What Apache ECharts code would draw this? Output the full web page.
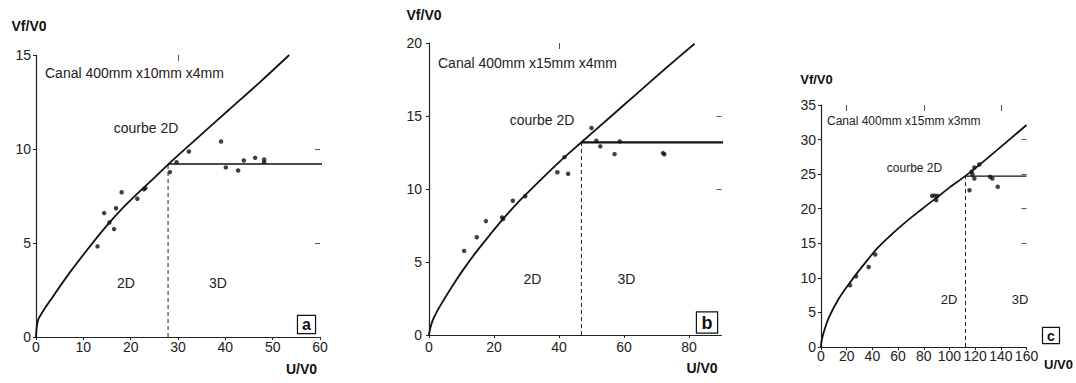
<!DOCTYPE html>
<html>
<head>
<meta charset="utf-8">
<script src="https://cdn.jsdelivr.net/npm/echarts@6/dist/echarts.min.js"></script>
<style>
html,body{margin:0;padding:0;background:#fff;}
#chart{width:1076px;height:383px;}
</style>
</head>
<body>
<div id="chart"></div>
<script>
// ---------- Panel a : Canal 400mm x10mm x4mm ----------
const aXTicks = [0, 10, 20, 30, 40, 50, 60];
const aYTicks = [0, 5, 10, 15];
const aXMax = 60, aYMax = 15;
const aTopTicks = [30];
const aRightTicks = [5, 10];
const aPoints = [[13.0,4.82],[14.4,6.59],[15.5,6.09],[16.5,5.74],[16.9,6.85],[18.1,7.70],[21.4,7.35],[22.8,7.86],[23.1,7.92],[28.3,8.77],[29.7,9.30],[32.3,9.87],[39.1,10.40],[40.1,9.02],[42.7,8.86],[43.9,9.39],[46.3,9.53],[48.2,9.44],[48.2,9.30]];
const aCurve = [[0,0],[0.15,0.5],[0.6,1.0],[3.7,2.2],[7.2,3.45],[10.7,4.6],[14.2,5.7],[17.7,6.7],[21.3,7.6],[24.8,8.42],[28,9.2],[34.6,10.7],[40.6,12.05],[47.5,13.6],[53.5,15.0]];
const aBreak = [27.9, 9.2];
const aPlateauEnd = 60.5;

// ---------- Panel b : Canal 400mm x15mm x4mm ----------
const bXTicks = [0, 20, 40, 60, 80];
const bYTicks = [0, 5, 10, 15, 20];
const bXMax = 90, bYMax = 20;
const bTopTicks = [40];
const bRightTicks = [10, 15];
const bPoints = [[10.8,5.76],[14.7,6.70],[17.5,7.80],[22.5,8.05],[22.8,7.95],[25.8,9.20],[29.6,9.50],[39.5,11.15],[41.7,12.18],[42.8,11.04],[50.0,14.18],[51.5,13.30],[52.7,12.92],[57.1,12.39],[58.7,13.26],[72.0,12.46],[72.4,12.38]];
const bCurve = [[0,0],[0.2,0.3],[1.2,1.03],[3.3,1.94],[7.4,3.43],[10.5,4.46],[14.6,5.71],[18.7,6.85],[22.8,7.95],[27.9,9.2],[34,10.55],[40.2,11.88],[46.9,13.2],[55.6,14.9],[63.8,16.5],[72.5,18.2],[81.7,19.95]];
const bBreak = [46.9, 13.2];
const bPlateauEnd = 90.5;

// ---------- Panel c : Canal 400mm x15mm x3mm ----------
const cXTicks = [0, 20, 40, 60, 80, 100, 120, 140, 160];
const cYTicks = [0, 5, 10, 15, 20, 25, 30, 35];
const cXMax = 160, cYMax = 35;
const cTopTicks = [20, 80, 140];
const cRightTicks = [15, 20, 25, 30];
const cPoints = [[22.6,8.93],[27.3,10.23],[37.1,11.58],[42.2,13.37],[86.5,21.86],[88.3,21.90],[90.5,21.86],[89.7,21.24],[115.6,22.68],[117.2,25.34],[119.4,25.97],[117.9,24.95],[119.4,24.37],[123.2,26.40],[131.6,24.61],[133.4,24.37],[137.6,23.17]];
const cCurve = [[0,0],[0.4,0.85],[2.9,2.6],[6.2,4.3],[12.9,6.7],[21.7,9.1],[32.8,11.8],[43.9,14.3],[55,16.3],[66.1,18.1],[77.2,19.75],[88.3,21.35],[100,23.05],[112.5,24.75],[125,26.6],[140,28.95],[160,32.1]];
const cBreak = [112.5, 24.72];
const cPlateauEnd = 160;

// ---------- Texts ----------
const xName = 'U/V0';
const yName = 'Vf/V0';
const canalTexts = ['Canal 400mm x10mm x4mm', 'Canal 400mm x15mm x4mm', 'Canal 400mm x15mm x3mm'];
const curveText = 'courbe 2D';
const regionTexts = ['2D', '3D'];
const panelLetters = ['a', 'b', 'c'];

// ---------- Build ----------
const FONT = "'Liberation Sans', Arial, Helvetica, sans-serif";
const TXT = '#222';

const panels = [
  {xt:aXTicks, yt:aYTicks, xmax:aXMax, ymax:aYMax, top:aTopTicks, right:aRightTicks, pts:aPoints, curve:aCurve, brk:aBreak, pend:aPlateauEnd,
   grid:{left:36, top:55, width:284, height:282}, xLabMargin:3, yLabMargin:5, xNamePad:[25,3,0,0], yNameGap:22, yNamePad:[0,14,0,0], nameSize:14, plateauW:1.5},
  {xt:bXTicks, yt:bYTicks, xmax:bXMax, ymax:bYMax, top:bTopTicks, right:bRightTicks, pts:bPoints, curve:bCurve, brk:bBreak, pend:bPlateauEnd,
   grid:{left:429, top:43, width:292.5, height:292}, xLabMargin:5, yLabMargin:7, xNamePad:[26,4,0,0], yNameGap:21, yNamePad:[0,10,0,0], nameSize:14, plateauW:2.2},
  {xt:cXTicks, yt:cYTicks, xmax:cXMax, ymax:cYMax, top:cTopTicks, right:cRightTicks, pts:cPoints, curve:cCurve, brk:cBreak, pend:cPlateauEnd,
   grid:{left:821, top:105, width:240, height:242}, xLabMargin:2, yLabMargin:5, xNamePad:[11,1,0,0], yNameGap:19, yNamePad:[0,9,0,0], nameSize:13, plateauW:1.2}
];

const grid = [], xAxis = [], yAxis = [], series = [];
panels.forEach((p, i) => {
  grid.push(Object.assign({containLabel:false}, p.grid));
  xAxis.push({
    type:'value', gridIndex:i, min:p.xt[0], max:p.xmax,
    name:xName, nameLocation:'end', nameGap:0,
    nameTextStyle:{fontFamily:FONT, fontWeight:'bold', fontSize:p.nameSize, color:'#111', align:'right', verticalAlign:'top', padding:p.xNamePad},
    axisLine:{show:true, onZero:false, lineStyle:{color:'#222', width:1.2}},
    axisTick:{show:true, length:3, customValues:p.xt, lineStyle:{color:'#222'}},
    axisLabel:{customValues:p.xt, fontFamily:FONT, fontSize:14, color:TXT, margin:p.xLabMargin},
    splitLine:{show:false}
  });
  yAxis.push({
    type:'value', gridIndex:i, min:p.yt[0], max:p.ymax,
    name:yName, nameLocation:'end', nameGap:p.yNameGap,
    nameTextStyle:{fontFamily:FONT, fontWeight:'bold', fontSize:p.nameSize, color:'#111', align:'center', padding:p.yNamePad},
    axisLine:{show:true, onZero:false, lineStyle:{color:'#222', width:1.2}},
    axisTick:{show:true, length:3, customValues:p.yt, lineStyle:{color:'#222'}},
    axisLabel:{customValues:p.yt, fontFamily:FONT, fontSize:14, color:TXT, margin:p.yLabMargin},
    splitLine:{show:false}
  });
});
// mirror (top / right) small ticks, axes 3..5
panels.forEach((p, i) => {
  xAxis.push({
    type:'value', gridIndex:i, position:'top', min:p.xt[0], max:p.xmax,
    axisLine:{show:true, onZero:false, lineStyle:{color:'#fff', opacity:0}},
    axisLabel:{show:true, customValues:p.top, formatter:() => ''},
    splitLine:{show:false},
    axisTick:{show:true, inside:true, length:6, customValues:p.top, lineStyle:{color:'#555', width:1}}
  });
  yAxis.push({
    type:'value', gridIndex:i, position:'right', min:p.yt[0], max:p.ymax,
    axisLine:{show:true, onZero:false, lineStyle:{color:'#fff', opacity:0}},
    axisLabel:{show:true, customValues:p.right, formatter:() => ''},
    splitLine:{show:false},
    axisTick:{show:true, inside:true, length:5, customValues:p.right, lineStyle:{color:'#555', width:1}}
  });
});
panels.forEach((p, i) => {
  series.push({
    type:'line', xAxisIndex:i, yAxisIndex:i, data:p.curve, smooth:0.3,
    showSymbol:false, clip:false, silent:true,
    lineStyle:{color:'#111', width:1.8}
  });
  series.push({
    type:'line', xAxisIndex:i, yAxisIndex:i, data:[[p.brk[0], 0], [p.brk[0], p.brk[1]]],
    showSymbol:false, silent:true, lineStyle:{color:'#222', width:1, type:[4,3]}
  });
  series.push({
    type:'line', xAxisIndex:i, yAxisIndex:i, data:[[p.brk[0], p.brk[1]], [p.pend, p.brk[1]]],
    showSymbol:false, clip:false, silent:true, lineStyle:{color:'#111', width:p.plateauW}
  });
  series.push({
    type:'scatter', xAxisIndex:i, yAxisIndex:i, data:p.pts, symbol:'circle', symbolSize:4.5,
    silent:true, itemStyle:{color:'#111'}
  });
  // empty helper series so the mirror axes are bound to data
  series.push({
    type:'scatter', xAxisIndex:i + 3, yAxisIndex:i + 3, data:[], silent:true
  });
});

function txt(x, y, text, size, opts) {
  return {type:'text', x:x, y:y, silent:true,
    style:Object.assign({text:text, fontFamily:FONT, fontSize:size, fill:TXT, align:'center', verticalAlign:'middle'}, opts || {})};
}
function box(x, y, text, size, lh, padX) {
  return {type:'text', x:x, y:y, silent:true,
    style:{text:text, fontFamily:FONT, fontSize:size, fontWeight:'bold', fill:'#111', align:'center', verticalAlign:'middle',
      lineHeight:lh, padding:[0,padX,0,padX], borderColor:'#111', borderWidth:1.2, backgroundColor:'#fff'}};
}
const graphic = [
  txt(45, 73, canalTexts[0], 14, {align:'left'}),
  txt(146, 128, curveText, 14),
  txt(126, 283, regionTexts[0], 14),
  txt(218, 283, regionTexts[1], 14),
  box(306.5, 324.5, panelLetters[0], 16, 17, 4),

  txt(438, 63, canalTexts[1], 14, {align:'left'}),
  txt(542, 120, curveText, 14),
  txt(532.5, 279, regionTexts[0], 14),
  txt(626.5, 279, regionTexts[1], 14),
  box(707, 322.5, panelLetters[1], 18, 20, 4.5),

  txt(827, 121, canalTexts[2], 12, {align:'left'}),
  txt(914.5, 168, curveText, 12),
  txt(949, 299, regionTexts[0], 13),
  txt(1020, 299, regionTexts[1], 13),
  box(1051, 335.5, panelLetters[2], 14, 15, 4)
];

const chart = echarts.init(document.getElementById('chart'), null, {renderer:'svg', width:1076, height:383});
chart.setOption({
  animation:false,
  backgroundColor:'#fff',
  textStyle:{fontFamily:FONT},
  grid:grid, xAxis:xAxis, yAxis:yAxis, series:series, graphic:graphic
});
</script>
</body>
</html>
